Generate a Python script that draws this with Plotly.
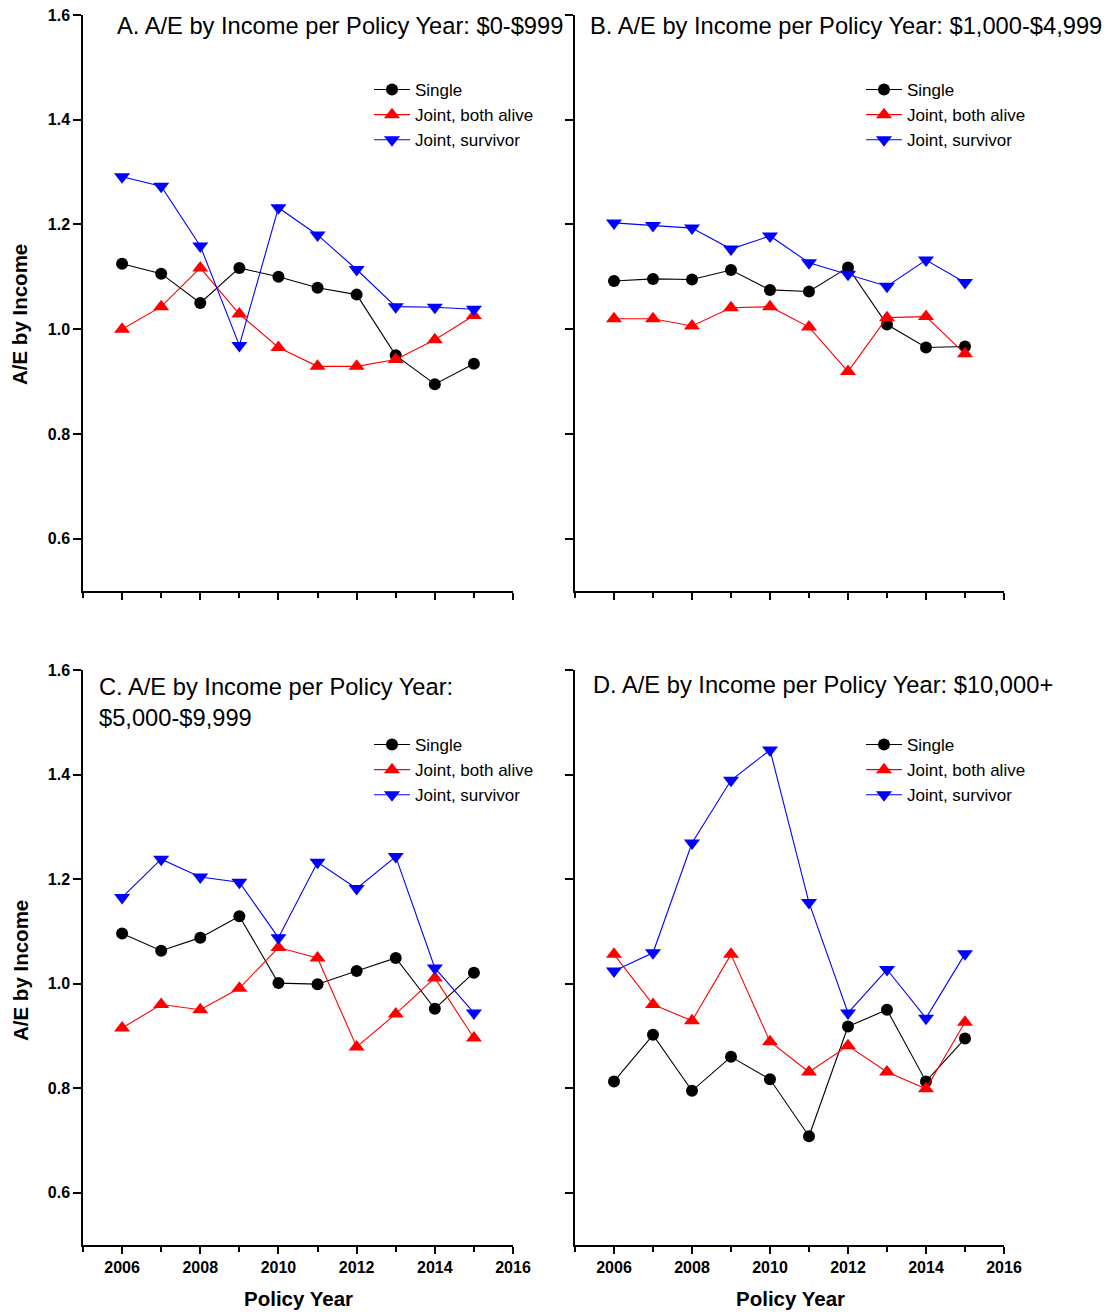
import plotly.graph_objects as go

years = [2006, 2007, 2008, 2009, 2010, 2011, 2012, 2013, 2014, 2015]
series_names = ["Single", "Joint, both alive", "Joint, survivor"]

A_single = [1.125, 1.106, 1.050, 1.117, 1.100, 1.079, 1.066, 0.950, 0.895, 0.934]
A_both = [1.000, 1.043, 1.117, 1.029, 0.965, 0.929, 0.929, 0.942, 0.980, 1.026]
A_surv = [1.291, 1.273, 1.159, 0.969, 1.232, 1.180, 1.114, 1.043, 1.042, 1.038]

B_single = [1.092, 1.096, 1.095, 1.113, 1.075, 1.072, 1.118, 1.009, 0.965, 0.967]
B_both = [1.020, 1.020, 1.006, 1.041, 1.043, 1.004, 0.919, 1.022, 1.024, 0.953]
B_surv = [1.203, 1.198, 1.193, 1.153, 1.178, 1.127, 1.105, 1.082, 1.132, 1.089]

C_single = [1.096, 1.063, 1.088, 1.129, 1.001, 0.999, 1.024, 1.049, 0.952, 1.021]
C_both = [0.915, 0.960, 0.950, 0.991, 1.069, 1.049, 0.879, 0.942, 1.011, 0.896]
C_surv = [1.165, 1.238, 1.204, 1.194, 1.088, 1.232, 1.182, 1.243, 1.030, 0.944]

D_single = [0.813, 0.902, 0.795, 0.860, 0.817, 0.708, 0.918, 0.950, 0.813, 0.895]
D_both = [1.056, 0.960, 0.929, 1.056, 0.889, 0.831, 0.881, 0.831, 0.799, 0.926]
D_surv = [1.024, 1.059, 1.269, 1.389, 1.447, 1.155, 0.944, 1.027, 0.934, 1.057]

panel_titles = [
    "A. A/E by Income per Policy Year: $0-$999",
    "B. A/E by Income per Policy Year: $1,000-$4,999",
    "C. A/E by Income per Policy Year:<br>$5,000-$9,999",
    "D. A/E by Income per Policy Year: $10,000+",
]
y_title = "A/E by Income"
x_title = "Policy Year"

W, H = 1111, 1315
FONT = "Liberation Sans, Arial, sans-serif"

def px_x(p):
    return p / W

def px_y(p):
    return 1 - p / H

# panel geometry (pixels)
cols = [(83, 513), (575, 1004)]
rows = [(15, 591), (670, 1245)]

panels = [
    (A_single, A_both, A_surv),
    (B_single, B_both, B_surv),
    (C_single, C_both, C_surv),
    (D_single, D_both, D_surv),
]

colors = ["black", "#ff0000", "#0000ff"]
symbols = ["circle", "triangle-up", "triangle-down"]
msizes = [12, 14, 14]

fig = go.Figure()
layout = dict()

for i, data in enumerate(panels):
    r, c = divmod(i, 2)
    n = i + 1
    xa = "x" if n == 1 else f"x{n}"
    ya = "y" if n == 1 else f"y{n}"
    leg = "legend" if n == 1 else f"legend{n}"
    for k, vals in enumerate(data):
        fig.add_trace(go.Scatter(
            x=years, y=vals, mode="lines+markers", name=series_names[k],
            line=dict(color=colors[k], width=1.1),
            marker=dict(color=colors[k], symbol=symbols[k], size=msizes[k],
                        line=dict(width=0)),
            xaxis=xa, yaxis=ya, legend=leg, showlegend=True,
        ))
    x0, x1 = cols[c]
    y0, y1 = rows[r]
    xkey = "xaxis" if n == 1 else f"xaxis{n}"
    ykey = "yaxis" if n == 1 else f"yaxis{n}"
    layout[xkey] = dict(
        domain=[px_x(x0), px_x(x1)], range=[2005, 2016], anchor=ya, automargin=False,
        tick0=2006, dtick=2, ticks="outside", ticklen=7, tickwidth=1.5, tickcolor="black",
        showline=True, linecolor="black", linewidth=1.5, showgrid=False, zeroline=False,
        showticklabels=(r == 1),
        tickfont=dict(family=FONT, size=16, color="black", weight="bold"),
        minor=dict(dtick=1, tick0=2005, ticks="outside", ticklen=5, tickwidth=1.5,
                   tickcolor="black", showgrid=False),
    )
    layout[ykey] = dict(
        domain=[px_y(y1), px_y(y0)], range=[0.5, 1.6], anchor=xa, automargin=False,
        tick0=0.6, dtick=0.2, tickformat=".1f", ticks="outside", ticklen=8, tickwidth=1.5,
        tickcolor="black",
        showline=True, linecolor="black", linewidth=1.5, showgrid=False, zeroline=False,
        showticklabels=(c == 0),
        tickfont=dict(family=FONT, size=16, color="black", weight="bold"),
    )
    legx = x0 + 286
    legy = y0 + 57
    layout[leg] = dict(
        x=px_x(legx), y=px_y(legy), xanchor="left", yanchor="top",
        bgcolor="rgba(0,0,0,0)", borderwidth=0, itemwidth=36,
        font=dict(family=FONT, size=17, color="black"),
        tracegroupgap=0, itemsizing="trace",
    )

annotations = []
title_pos = [(115, 26), (588, 26), (97, 702), (591, 685)]
for i, t in enumerate(panel_titles):
    tx, ty = title_pos[i]
    annotations.append(dict(
        text=t, x=px_x(tx), y=px_y(ty), xref="paper", yref="paper",
        xanchor="left", yanchor="middle", align="left", showarrow=False,
        font=dict(family=FONT, size=23.7, color="black"),
    ))
for ty in (315, 971):
    annotations.append(dict(
        text=y_title, x=px_x(20), y=px_y(ty), xref="paper", yref="paper",
        xanchor="center", yanchor="middle", textangle=-90, showarrow=False,
        font=dict(family=FONT, size=20.5, color="black", weight="bold"),
    ))
for cx in (298, 790):
    annotations.append(dict(
        text=x_title, x=px_x(cx), y=px_y(1298), xref="paper", yref="paper",
        xanchor="center", yanchor="middle", showarrow=False,
        font=dict(family=FONT, size=20.5, color="black", weight="bold"),
    ))

fig.update_layout(
    template="none",
    width=W, height=H, margin=dict(l=0, r=0, t=0, b=0, pad=0, autoexpand=False),
    paper_bgcolor="white", plot_bgcolor="white",
    font=dict(family=FONT, color="black"),
    annotations=annotations, **layout,
)

fig.write_html(
    "out.html",
    config={"displayModeBar": False},
    post_script="document.body.style.margin='0px';document.body.style.overflow='hidden';",
)
